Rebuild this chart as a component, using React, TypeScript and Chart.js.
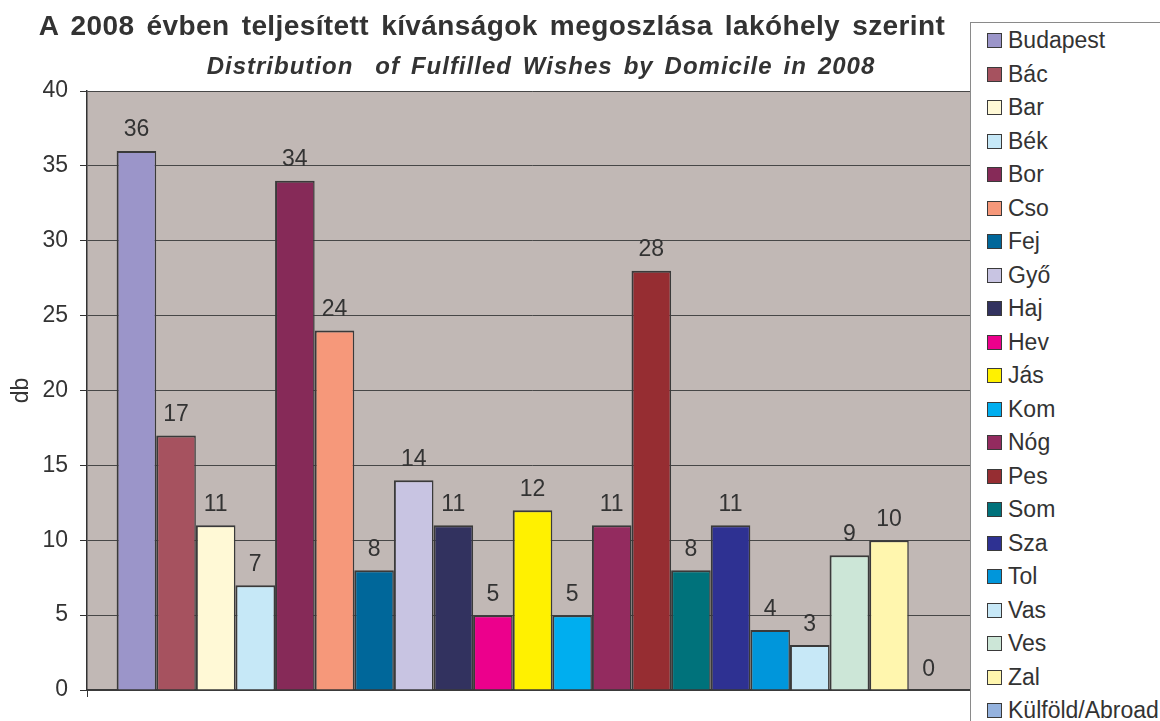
import React, { useEffect, useRef } from "react";
import { Chart, registerables } from "chart.js";

Chart.register(...registerables);

const regions = [
  "Budapest", "Bác", "Bar", "Bék", "Bor", "Cso", "Fej", "Győ", "Haj", "Hev",
  "Jás", "Kom", "Nóg", "Pes", "Som", "Sza", "Tol", "Vas", "Ves", "Zal", "Külföld/Abroad",
];
const counts = [36, 17, 11, 7, 34, 24, 8, 14, 11, 5, 12, 5, 11, 28, 8, 11, 4, 3, 9, 10, 0];
const colors = [
  "#9B95C9", "#A6525F", "#FFF9D6", "#C6E8F7", "#862A58", "#F6987A", "#00679A",
  "#C8C4E2", "#32325F", "#EC008C", "#FFF100", "#00AEEF", "#932B5F", "#962D32",
  "#00727B", "#2E3192", "#0096DB", "#C7E8F7", "#CCE6D7", "#FFF6AE", "#94B2DE",
];
const titleText = "A 2008 évben teljesített kívánságok megoszlása lakóhely szerint";
const subtitleText = "Distribution  of Fulfilled Wishes by Domicile in 2008";
const yAxisTitle = "db";
const yMin = 0;
const yMax = 40;
const yStep = 5;

const FONT = '"Liberation Sans", Arial, Helvetica, sans-serif';
const TEXT = "#333333";

const plotBg = {
  id: "plotBg",
  beforeDraw(chart: any) {
    const { ctx, chartArea } = chart;
    ctx.save();
    ctx.fillStyle = "#C1B8B5";
    ctx.fillRect(chartArea.left, chartArea.top, chartArea.right - chartArea.left, chartArea.bottom - chartArea.top);
    ctx.restore();
  },
};

const valueLabels = {
  id: "valueLabels",
  afterDatasetsDraw(chart: any) {
    const { ctx } = chart;
    ctx.save();
    ctx.font = `23px ${FONT}`;
    ctx.fillStyle = TEXT;
    ctx.textAlign = "center";
    ctx.textBaseline = "alphabetic";
    chart.data.datasets.forEach((ds: any, i: number) => {
      const meta = chart.getDatasetMeta(i);
      const el = meta.data[0];
      if (!el) return;
      ctx.fillText(String(ds.data[0]), el.x, el.y - 14.5);
    });
    ctx.restore();
  },
};

export default function App() {
  const canvasRef = useRef<HTMLCanvasElement | null>(null);

  useEffect(() => {
    document.body.style.margin = "0";
    const canvas = canvasRef.current;
    if (!canvas) return;
    const chart = new Chart(canvas, {
      type: "bar",
      data: {
        labels: [""],
        datasets: regions.map((r, i) => ({
          label: r,
          data: [counts[i]],
          backgroundColor: colors[i],
          borderColor: "#3A3A3A",
          borderWidth: { top: 2, left: 2, right: 1.5, bottom: 0 },
          borderSkipped: false,
          inflateAmount: 0,
          categoryPercentage: 0.9335,
          barPercentage: 1,
        })),
      },
      options: {
        animation: false,
        responsive: false,
        devicePixelRatio: 1,
        layout: { padding: { top: 91, right: 182, bottom: 0, left: 0 } },
        plugins: {
          legend: { display: false },
          title: { display: false },
          tooltip: { enabled: false },
        },
        scales: {
          x: {
            type: "category",
            offset: true,
            grid: {
              display: true,
              drawOnChartArea: false,
              drawTicks: true,
              tickLength: 7,
              color: "#333333",
              offset: true,
            },
            ticks: { display: false },
            border: { display: true, color: "#3A3A3A", width: 2 },
            afterFit(scale: any) {
              scale.height = 31;
            },
          },
          y: {
            min: yMin,
            max: yMax,
            ticks: {
              stepSize: yStep,
              color: TEXT,
              font: { family: FONT, size: 23 },
              padding: 12,
            },
            grid: {
              color: "#474747",
              lineWidth: 1,
              drawTicks: true,
              tickLength: 7,
              tickColor: "#333333",
            },
            border: { display: true, color: "#333333", width: 1.5 },
            title: {
              display: true,
              text: yAxisTitle,
              color: TEXT,
              font: { family: FONT, size: 23 },
              padding: { top: 8, bottom: 0 },
            },
            afterFit(scale: any) {
              scale.width = 87;
            },
          },
        },
      },
      plugins: [plotBg, valueLabels],
    });
    return () => chart.destroy();
  }, []);

  return (
    <div style={{ position: "relative", width: 1160, height: 721, overflow: "hidden", background: "#fff", fontFamily: FONT }}>
      <canvas ref={canvasRef} width={1160} height={721} style={{ position: "absolute", left: 0, top: 0, width: 1160, height: 721 }} />
      <div
        style={{
          position: "absolute", left: 30, top: 12, width: 924, textAlign: "center",
          fontSize: 28, lineHeight: "28px", fontWeight: "bold", color: TEXT,
          whiteSpace: "pre", letterSpacing: "0.4px", wordSpacing: "4px",
        }}
      >
        {titleText}
      </div>
      <div
        style={{
          position: "absolute", left: 200, top: 54, width: 682, textAlign: "center",
          fontSize: 24, lineHeight: "24px", fontWeight: "bold", fontStyle: "italic", color: TEXT,
          whiteSpace: "pre", letterSpacing: "1px", wordSpacing: "3.3px",
        }}
      >
        {subtitleText}
      </div>
      <div
        style={{
          position: "absolute", left: 970, top: 22, width: 300, height: 800,
          background: "#fff", border: "1.5px solid #8A8A8A", boxSizing: "border-box",
        }}
      >
        {regions.map((r, i) => (
          <div
            key={r}
            style={{
              position: "absolute", left: 0, top: 1 + 33.5 * i, height: 33.5,
              display: "flex", alignItems: "center", whiteSpace: "nowrap",
            }}
          >
            <span
              style={{
                display: "inline-block", width: 15, height: 15, marginLeft: 16, marginRight: 6,
                background: colors[i], border: "1.5px solid #3A3A3A", boxSizing: "border-box",
              }}
            />
            <span style={{ fontSize: 23, lineHeight: "33.5px", color: TEXT }}>{r}</span>
          </div>
        ))}
      </div>
    </div>
  );
}
